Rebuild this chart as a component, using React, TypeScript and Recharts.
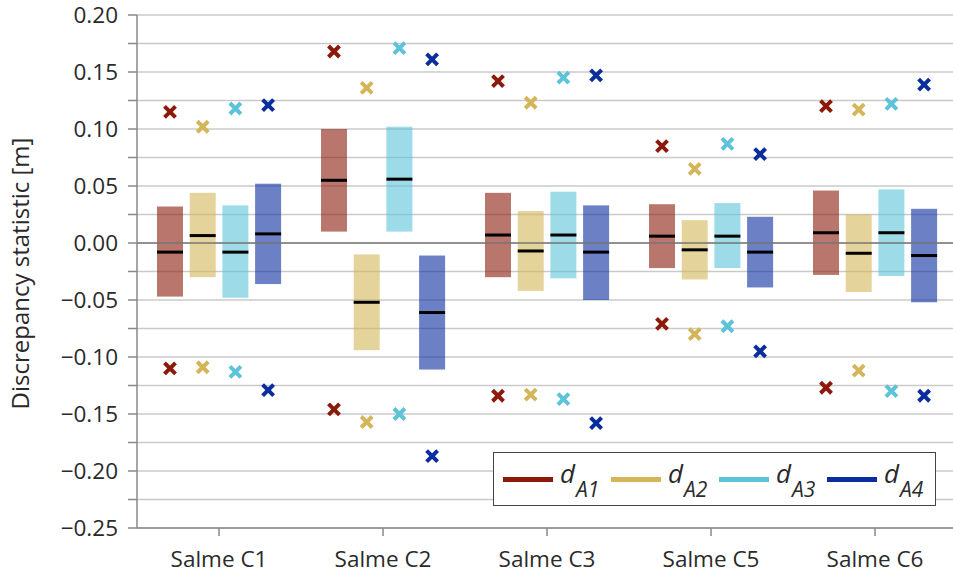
import React from 'react';
import {
  ComposedChart,
  Bar,
  XAxis,
  YAxis,
  CartesianGrid,
  ReferenceLine,
  Legend,
} from 'recharts';

const categories = ['Salme C1', 'Salme C2', 'Salme C3', 'Salme C5', 'Salme C6'];
const seriesLabels = ['A1', 'A2', 'A3', 'A4'];

// rows = series dA1..dA4, columns = categories
const boxLow = [
  [-0.047, 0.010, -0.030, -0.022, -0.028],
  [-0.030, -0.094, -0.042, -0.032, -0.043],
  [-0.048, 0.010, -0.031, -0.022, -0.029],
  [-0.036, -0.111, -0.050, -0.039, -0.052],
];
const boxHigh = [
  [0.032, 0.100, 0.044, 0.034, 0.046],
  [0.044, -0.010, 0.028, 0.020, 0.025],
  [0.033, 0.102, 0.045, 0.035, 0.047],
  [0.052, -0.011, 0.033, 0.023, 0.030],
];
const medians = [
  [-0.008, 0.055, 0.007, 0.006, 0.009],
  [0.0065, -0.052, -0.007, -0.006, -0.009],
  [-0.008, 0.056, 0.007, 0.006, 0.009],
  [0.008, -0.061, -0.008, -0.008, -0.011],
];
const maxima = [
  [0.115, 0.168, 0.142, 0.085, 0.120],
  [0.102, 0.136, 0.123, 0.065, 0.117],
  [0.118, 0.171, 0.145, 0.087, 0.122],
  [0.121, 0.161, 0.147, 0.078, 0.139],
];
const minima = [
  [-0.110, -0.146, -0.134, -0.071, -0.127],
  [-0.109, -0.157, -0.133, -0.080, -0.112],
  [-0.113, -0.150, -0.137, -0.073, -0.130],
  [-0.129, -0.187, -0.158, -0.095, -0.134],
];

const yTicks = [
  -0.25, -0.225, -0.2, -0.175, -0.15, -0.125, -0.1, -0.075, -0.05, -0.025,
  0, 0.025, 0.05, 0.075, 0.1, 0.125, 0.15, 0.175, 0.2,
];

const COLORS = ['#8b1a0a', '#d4b55a', '#5cc3d8', '#0a2d9e'];
const FONT = '"Open Sans", sans-serif';
const TEXT = '#2a2a2a';

const data = categories.map((name, i) => {
  const row: Record<string, any> = { name, i };
  seriesLabels.forEach((_, s) => {
    row[`d${s}`] = [boxLow[s][i], boxHigh[s][i]];
  });
  return row;
});

const formatTick = (v: number) => {
  const major = Math.abs(Math.round(v * 1000)) % 50 === 0;
  if (!major) return '';
  return v.toFixed(2).replace('-', '\u2212');
};

// box with median bar and x-markers for max/min, positioned from the bar's own scale
const makeBoxShape = (s: number) => (props: any) => {
  const { x, y, width, height, payload } = props;
  const i = payload.i;
  const lo = boxLow[s][i];
  const hi = boxHigh[s][i];
  const top = Math.min(y, y + height);
  const h = Math.abs(height);
  const k = h / (hi - lo);
  const py = (v: number) => top + (hi - v) * k;
  const cx = x + width / 2;
  const r = 5.5;
  const cross = (cy: number) =>
    `M${cx - r},${cy - r}L${cx + r},${cy + r}M${cx + r},${cy - r}L${cx - r},${cy + r}`;
  return (
    <g>
      <rect x={x} y={top} width={width} height={h} fill={COLORS[s]} fillOpacity={0.6} />
      <line x1={x} x2={x + width} y1={py(medians[s][i])} y2={py(medians[s][i])} stroke="#000" strokeWidth={3} />
      <path d={cross(py(maxima[s][i]))} stroke={COLORS[s]} strokeWidth={4} />
      <path d={cross(py(minima[s][i]))} stroke={COLORS[s]} strokeWidth={4} />
    </g>
  );
};

const LegendBox = () => (
  <div
    style={{
      display: 'flex',
      alignItems: 'center',
      boxSizing: 'border-box',
      width: 443,
      height: 54,
      paddingLeft: 9,
      border: '1.5px solid #444',
      background: '#fff',
      fontFamily: FONT,
      color: TEXT,
    }}
  >
    {seriesLabels.map((lab, s) => (
      <div key={lab} style={{ display: 'flex', alignItems: 'center', width: 110 }}>
        <div style={{ width: 50, height: 5, background: COLORS[s], marginRight: 7 }} />
        <span style={{ fontStyle: 'italic', fontSize: 26, lineHeight: 1, position: 'relative', top: -6 }}>d</span>
        <span style={{ fontStyle: 'italic', fontSize: 21, lineHeight: 1, position: 'relative', top: 10, marginLeft: 1 }}>
          {lab}
        </span>
      </div>
    ))}
  </div>
);

const YLabel = (props: any) => {
  const { viewBox } = props;
  const cy = viewBox.y + viewBox.height / 2 + 2;
  return (
    <text
      x={19}
      y={cy}
      transform={`rotate(-90, 19, ${cy})`}
      textAnchor="middle"
      dominantBaseline="central"
      fontSize={24}
      fontFamily={FONT}
      fill={TEXT}
    >
      Discrepancy statistic [m]
    </text>
  );
};

export default function App() {
  return (
    <div style={{ position: 'absolute', left: 0, top: 0, width: 953, height: 576, overflow: 'hidden', background: '#fff' }}>
      <ComposedChart
        width={960}
        height={576}
        data={data}
        margin={{ top: 15, right: 3, bottom: 8, left: 10 }}
        barGap={6.7}
        barSize={26}
      >
        <CartesianGrid vertical={false} stroke="#cacaca" strokeWidth={1.5} />
        <XAxis
          dataKey="name"
          interval={0}
          height={40}
          tickSize={8}
          tickMargin={15}
          axisLine={{ stroke: '#888', strokeWidth: 1.5 }}
          tickLine={{ stroke: '#888', strokeWidth: 1.5 }}
          tick={{ fontSize: 22.5, fontFamily: FONT, fill: TEXT }}
        />
        <YAxis
          type="number"
          domain={[-0.25, 0.2]}
          ticks={yTicks}
          interval={0}
          width={127}
          tickSize={9}
          tickMargin={10}
          tickFormatter={formatTick}
          axisLine={{ stroke: '#888', strokeWidth: 1.5 }}
          tickLine={{ stroke: '#888', strokeWidth: 1.5 }}
          tick={{ fontSize: 22.5, fontFamily: FONT, fill: TEXT }}
          label={<YLabel />}
        />
        <ReferenceLine y={0} stroke="#7a7a7a" strokeWidth={1.5} />
        {seriesLabels.map((lab, s) => (
          <Bar
            key={lab}
            dataKey={`d${s}`}
            name={`d${lab}`}
            fill={COLORS[s]}
            shape={makeBoxShape(s)}
            isAnimationActive={false}
          />
        ))}
        <Legend
          layout="horizontal"
          verticalAlign="middle"
          align="center"
          content={<LegendBox />}
          wrapperStyle={{ left: 493, top: 452, width: 443, height: 54 }}
        />
      </ComposedChart>
    </div>
  );
}
